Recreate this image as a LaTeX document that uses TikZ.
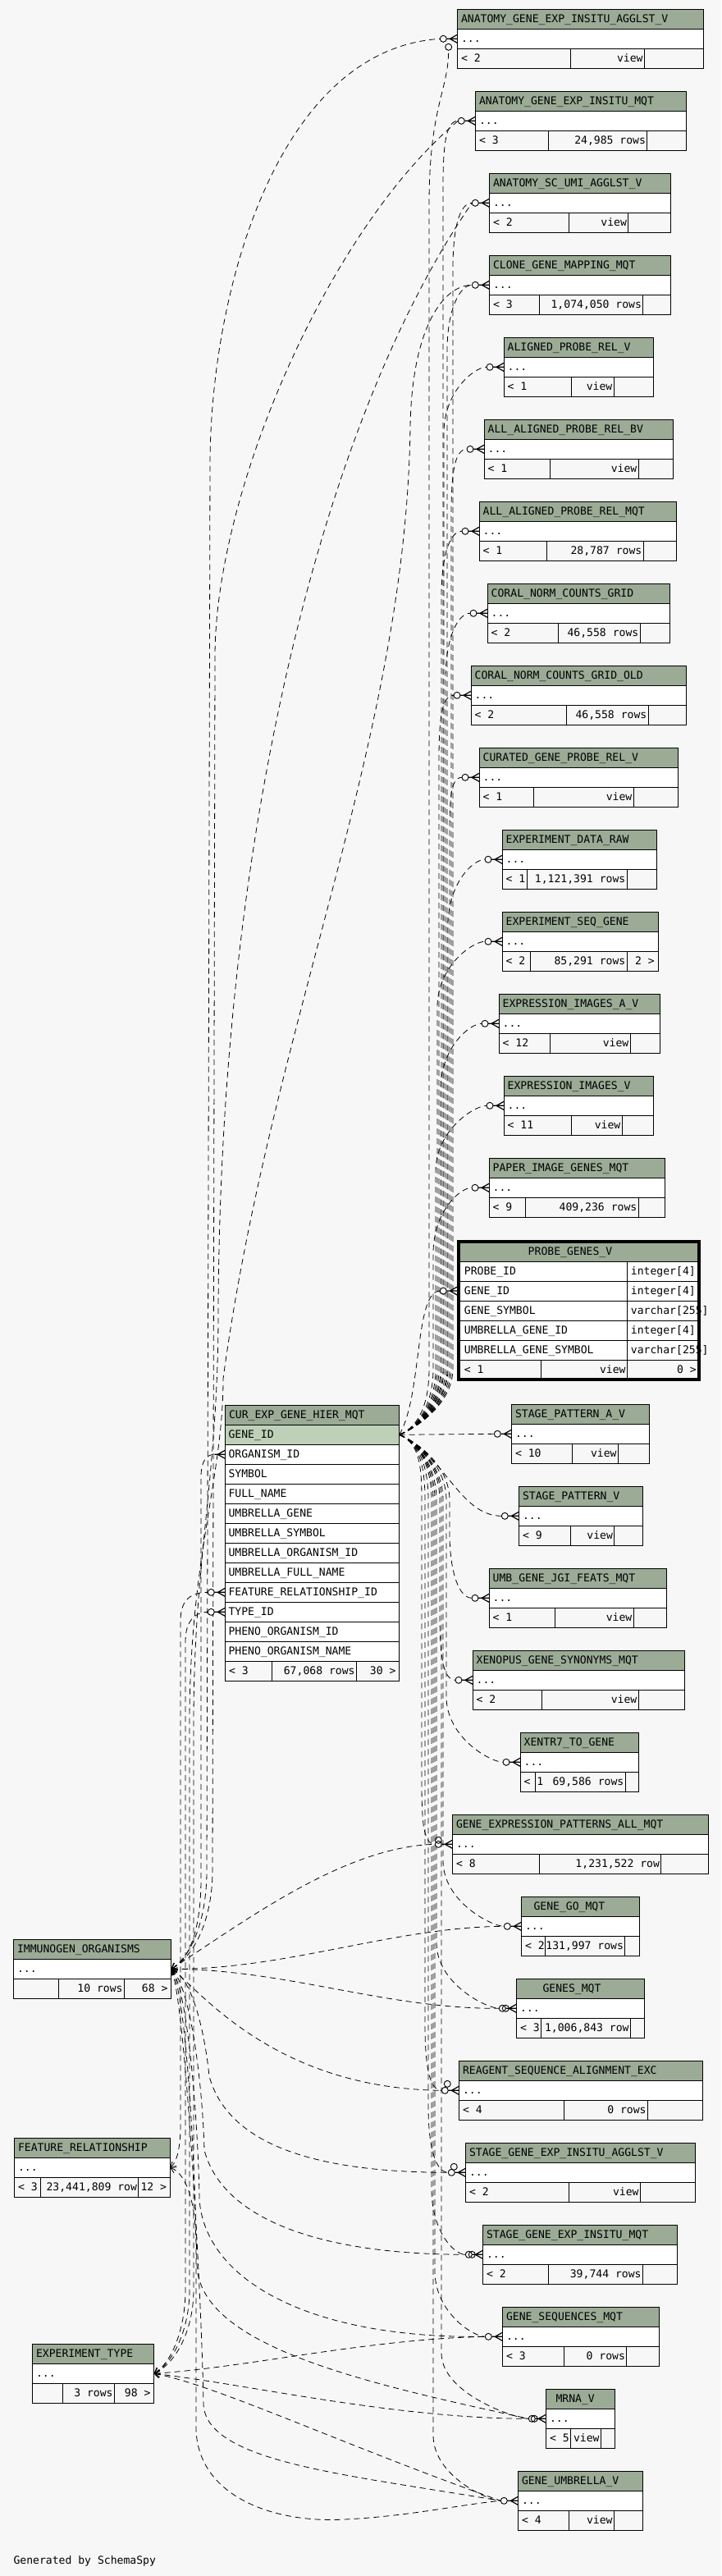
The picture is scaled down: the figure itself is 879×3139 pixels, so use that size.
\documentclass[tikz,border=0pt]{standalone}
\usepackage{fontspec}
\newfontfamily\dv{DejaVu Sans Mono}
\usetikzlibrary{arrows.meta,calc}
\pgfdeclarelayer{back}
\pgfdeclarelayer{edges}
\pgfsetlayers{back,edges,main}
\definecolor{bg}{HTML}{F7F7F7}
\definecolor{hdr}{HTML}{9BAB96}
\definecolor{sel}{HTML}{BED1B8}
\tikzset{
 tl/.style={line width=1pt},
 txt/.style={anchor=base west,inner sep=0pt,font={\dv\fontsize{13.1}{15}\selectfont}},
 txtr/.style={anchor=base east,inner sep=0pt,font={\dv\fontsize{13.1}{15}\selectfont}},
 txtc/.style={anchor=base,inner sep=0pt,font={\dv\fontsize{13.1}{15}\selectfont}},
 rel/.style={line width=0.8pt,dash pattern=on 7pt off 5pt},
 pend/.style={arrows={Straight Barb[length=6pt,width=9pt]-}},
 crowl/.style={line width=1.2pt},
 ring/.style={line width=0.9pt,fill=bg},
 ring2/.style={line width=0.9pt},
}
\newcommand\mytoff{4.5}
\newcommand\mytbl[9]{%
 \fill[hdr] (#2,#4) rectangle (#3,#4+24);
 \fill[white] (#2,#4+24) rectangle (#3,#4+48);
 \draw[tl] (#2,#4) rectangle (#3,#4+72) (#2,#4+24) -- (#3,#4+24) (#2,#4+48) -- (#3,#4+48) (#6,#4+48) -- (#6,#4+72) (#7,#4+48) -- (#7,#4+72);
 \node[txt] (#1-t) at (#2+\mytoff,#4+16) {#5};
 \node[txt] (#1-r) at (#2+4.5,#4+40) {...};
 \node[txt] (#1-a) at (#2+4.5,#4+64) {#8};
 \node[txtr] (#1-b) at (#7-1.5,#4+64) {#9};
}
\newcommand\crowft[3]{%
 \coordinate (#1-in) at (#2-21,#3);
 \draw[crowl] (#2-9,#3) -- (#2,#3-5) (#2-9,#3) -- (#2,#3+5) (#2-13,#3) -- (#2,#3);
 \draw[ring] (#2-17,#3) circle[radius=4pt];
}
\newcommand\edgeup[2]{\draw[rel] let \p1=(#2-in) in (gid) .. controls +(25,-10) and (#1,1708) .. (#1,1668) -- (#1pt,\y1-80pt) .. controls (#1pt,\y1-30pt) and (\x1-15pt,\y1) .. (#2-in);}
\newcommand\edgedn[2]{\draw[rel] let \p1=(#2-in) in (gid) .. controls +(25,10) and (#1,1788) .. (#1,1828) -- (#1pt,\y1+80pt) .. controls (#1pt,\y1+30pt) and (\x1-15pt,\y1) .. (#2-in);}
\begin{document}
\catcode`\_=12
\begin{tikzpicture}[x=1pt,y=-1pt]
\begin{pgfonlayer}{back}\fill[bg] (0,0) rectangle (879,3139);\end{pgfonlayer}
\useasboundingbox (0,0) rectangle (879,3139);

% right-hand tables
\mytbl{t1}{557.3}{857.3}{11.3}{ANATOMY_GENE_EXP_INSITU_AGGLST_V}{695.3}{785.3}{< 2}{view}
\mytbl{t2}{579.3}{836.3}{111.3}{ANATOMY_GENE_EXP_INSITU_MQT}{668.3}{788.7}{< 3}{24,985 rows}
\mytbl{t3}{596.3}{817.3}{211.3}{ANATOMY_SC_UMI_AGGLST_V}{693.3}{765.7}{< 2}{view}
\mytbl{t4}{596.3}{817.3}{311.3}{CLONE_GENE_MAPPING_MQT}{657.3}{783.7}{< 3}{1,074,050 rows}
\mytbl{t5}{614}{796}{411.3}{ALIGNED_PROBE_REL_V}{696}{748}{< 1}{view}
\mytbl{t6}{590}{820}{511.3}{ALL_ALIGNED_PROBE_REL_BV}{670}{778}{< 1}{view}
\mytbl{t7}{584}{824}{611.3}{ALL_ALIGNED_PROBE_REL_MQT}{666}{784}{< 1}{28,787 rows}
\mytbl{t8}{594}{816}{711.3}{CORAL_NORM_COUNTS_GRID}{680}{780}{< 2}{46,558 rows}
\mytbl{t9}{574}{836}{811.3}{CORAL_NORM_COUNTS_GRID_OLD}{690}{790}{< 2}{46,558 rows}
\mytbl{t10}{584}{826}{911.3}{CURATED_GENE_PROBE_REL_V}{650}{772}{< 1}{view}
\mytbl{t11}{612}{800}{1011.3}{EXPERIMENT_DATA_RAW}{642}{764}{< 1}{1,121,391 rows}
\mytbl{t12}{612}{802}{1111.3}{EXPERIMENT_SEQ_GENE}{646}{764}{< 2}{85,291 rows}
\node[txtr] (t12-c) at (798,1175.3) {2 >};
\mytbl{t13}{608}{804}{1211.3}{EXPRESSION_IMAGES_A_V}{670}{768}{< 12}{view}
\mytbl{t14}{614}{796}{1311.3}{EXPRESSION_IMAGES_V}{696}{758}{< 11}{view}
\mytbl{t15}{596}{810}{1411.3}{PAPER_IMAGE_GENES_MQT}{640}{778}{< 9}{409,236 rows}
\mytbl{t17}{623.3}{791.3}{1711.3}{STAGE_PATTERN_A_V}{697.3}{753.3}{< 10}{view}
\mytbl{t18}{632.3}{783.7}{1811.3}{STAGE_PATTERN_V}{695.3}{748.7}{< 9}{view}
\mytbl{t19}{596}{812}{1911.3}{UMB_GENE_JGI_FEATS_MQT}{676}{772}{< 1}{view}
\mytbl{t20}{576}{834}{2011.3}{XENOPUS_GENE_SYNONYMS_MQT}{660}{778}{< 2}{view}
\mytbl{t21}{634}{778}{2111.3}{XENTR7_TO_GENE}{652}{762}{< 1}{69,586 rows}
\mytbl{t22}{551.3}{863.3}{2211.3}{GENE_EXPRESSION_PATTERNS_ALL_MQT}{657.3}{805.7}{< 8}{1,231,522 row}
\renewcommand\mytoff{15}
\mytbl{t23}{635.3}{779.3}{2311.3}{GENE_GO_MQT}{664.7}{761.7}{< 2}{131,997 rows}
\renewcommand\mytoff{32}
\mytbl{t24}{629.3}{785.3}{2411.3}{GENES_MQT}{659.3}{768.3}{< 3}{1,006,843 row}
\renewcommand\mytoff{4.5}
\mytbl{t25}{559.3}{856.3}{2511.3}{REAGENT_SEQUENCE_ALIGNMENT_EXC}{687.3}{789.3}{< 4}{0 rows}
\mytbl{t26}{567.3}{847.7}{2611.3}{STAGE_GENE_EXP_INSITU_AGGLST_V}{693.3}{780.3}{< 2}{view}
\mytbl{t27}{588.3}{825.3}{2711.3}{STAGE_GENE_EXP_INSITU_MQT}{668.3}{783.3}{< 2}{39,744 rows}
\mytbl{t28}{612.3}{803.3}{2811.3}{GENE_SEQUENCES_MQT}{687.3}{763.7}{< 3}{0 rows}
\renewcommand\mytoff{12}
\mytbl{t29}{665.3}{749.3}{2911.3}{MRNA_V}{695.3}{732.3}{< 5}{view}
\renewcommand\mytoff{4.5}
\mytbl{t30}{631.3}{783.3}{3011.3}{GENE_UMBRELLA_V}{693.3}{748.3}{< 4}{view}

% PROBE_GENES_V
\fill[hdr] (559,1513) rectangle (852.5,1537);
\fill[white] (559,1537) rectangle (852.5,1657);
\foreach \k in {0,...,5} \draw[tl] (559,1537+24*\k) -- (852.5,1537+24*\k);
\draw[tl] (764.3,1537) -- (764.3,1681) (659.3,1657) -- (659.3,1681);
\node[txtc] (pg-t) at (695,1529) {PROBE_GENES_V};
\foreach \nm/\ty [count=\i from 0] in {PROBE_ID/integer[4],GENE_ID/integer[4],GENE_SYMBOL/varchar[255],UMBRELLA_GENE_ID/integer[4],UMBRELLA_GENE_SYMBOL/varchar[255]}{
 \node[txt] (pg-n\i) at (565.7,1553+24*\i) {\nm};
 \node[txt] (pg-y\i) at (768.7,1553+24*\i) {\ty};
}
\node[txt] (pg-a) at (565.7,1673) {< 1};
\node[txtr] (pg-b) at (762.8,1673) {view};
\node[txtr] (pg-c) at (849,1673) {0 >};
\draw[line width=4pt] (559.3,1513) rectangle (852.3,1680.7);

% CUR_EXP_GENE_HIER_MQT
\fill[hdr] (274.3,1712.3) rectangle (486.7,1736.3);
\fill[sel] (274.3,1736.3) rectangle (486.7,1760.3);
\fill[white] (274.3,1760.3) rectangle (486.7,2024.3);
\draw[tl] (274.3,1712.3) rectangle (486.7,2048.3);
\foreach \k in {0,...,12} \draw[tl] (274.3,1736.3+24*\k) -- (486.7,1736.3+24*\k);
\draw[tl] (331.3,2024.3) -- (331.3,2048.3) (434.3,2024.3) -- (434.3,2048.3);
\node[txt] (cur-t) at (278.8,1728.3) {CUR_EXP_GENE_HIER_MQT};
\foreach \nm [count=\i from 0] in {GENE_ID,ORGANISM_ID,SYMBOL,FULL_NAME,UMBRELLA_GENE,UMBRELLA_SYMBOL,UMBRELLA_ORGANISM_ID,UMBRELLA_FULL_NAME,FEATURE_RELATIONSHIP_ID,TYPE_ID,PHENO_ORGANISM_ID,PHENO_ORGANISM_NAME}
 \node[txt] (cur-\i) at (278.3,1752.3+24*\i) {\nm};
\node[txt] (cur-fa) at (278.8,2040.3) {< 3};
\node[txtr] (cur-fb) at (432.8,2040.3) {67,068 rows};
\node[txtr] (cur-fc) at (482.7,2040.3) {30 >};
\coordinate (gid) at (486.7,1748.3);

% left tables
\mytbl{imm}{16.3}{208.7}{2363.3}{IMMUNOGEN_ORGANISMS}{71.3}{151.3}{}{10 rows}
\node[txtr] (imm-c) at (204.7,2427.3) {68 >};
\coordinate (imm-out) at (208.7,2399.3);
\mytbl{fr}{17.3}{207.3}{2605.3}{FEATURE_RELATIONSHIP}{49.3}{168.7}{< 3}{23,441,809 row}
\node[txtr] (fr-c) at (203.3,2669.3) {12 >};
\coordinate (fr-out) at (207.3,2641.3);
\mytbl{et}{39.3}{187.7}{2856.3}{EXPERIMENT_TYPE}{76.3}{139.3}{}{3 rows}
\node[txtr] (et-c) at (183.7,2920.3) {98 >};
\coordinate (et-out) at (187.7,2892.3);

\node[txt] (gen) at (16.3,3124) {Generated by SchemaSpy};

% crow's feet
\foreach \id/\L/\y in {t1/557.3/47.3,t2/579.3/147.3,t3/596.3/247.3,t4/596.3/347.3,t5/614/447.3,t6/590/547.3,t7/584/647.3,t8/594/747.3,t9/574/847.3,t10/584/947.3,t11/612/1047.3,t12/612/1147.3,t13/608/1247.3,t14/614/1347.3,t15/596/1447.3,pg/557.3/1573,t17/623.3/1747.3,t18/632.3/1847.3,t19/596/1947.3,t20/576/2047.3,t21/634/2147.3,t22/551.3/2247.3,t23/635.3/2347.3,t24/629.3/2447.3,t25/559.3/2547.3,t26/567.3/2647.3,t27/588.3/2747.3,t28/612.3/2847.3,t29/665.3/2947.3,t30/631.3/3047.3,cfr/274.3/1940.3,cty/274.3/1964.3}
 {\crowft{\id}{\L}{\y}}
\draw[crowl] (265.3,1772.3) -- (274.3,1767.3) (265.3,1772.3) -- (274.3,1777.3) (261.3,1772.3) -- (274.3,1772.3);
\coordinate (cur-org) at (261.3,1772.3);
\draw[ring] (546.7,57.3) circle[radius=4pt];
\coordinate (t1-in2) at (546.7,61.5);
\draw[ring2] (534.3,2242.3) circle[radius=4pt];
\draw[ring2] (616.3,2447.3) circle[radius=4pt];
\draw[ring2] (545.3,2539.3) circle[radius=4pt];
\draw[ring2] (553.3,2640.3) circle[radius=4pt];
\draw[ring2] (575.3,2747.3) circle[radius=4pt];
\draw[ring2] (651.3,2947.3) circle[radius=4pt];

% connectors
\begin{pgfonlayer}{edges}
% from CUR_EXP_GENE_HIER_MQT.GENE_ID
\draw[rel] (gid) .. controls +(25,-10) and (523,1708) .. (523,1668) -- (523,250) .. controls (523,130) and (546.7,110) .. (t1-in2);
\edgeup{540}{t2}
\edgeup{552}{t3}
\edgeup{545}{t4}
\edgeup{541}{t5}
\edgeup{550}{t6}
\edgeup{538}{t7}
\edgeup{543}{t8}
\edgeup{535}{t9}
\edgeup{548}{t10}
\edgeup{546}{t11}
\edgeup{533}{t12}
\edgeup{537}{t13}
\edgeup{531}{t14}
\edgeup{528}{t15}
\draw[rel] (gid) .. controls (515,1700) and (505,1573) .. (pg-in);
\draw[rel] (gid) -- (t17-in);
\draw[rel] (gid) .. controls (540,1770) and (560,1847.3) .. (t18-in);
\edgedn{548}{t19}
\edgedn{536}{t20}
\edgedn{544}{t21}
\edgedn{514}{t22}
\edgedn{540}{t23}
\edgedn{532}{t24}
\edgedn{518}{t25}
\edgedn{522}{t26}
\edgedn{526}{t27}
\edgedn{530}{t28}
\edgedn{538}{t29}
\edgedn{528}{t30}
% from IMMUNOGEN_ORGANISMS
\draw[rel,pend] (imm-out) .. controls (235,2385) and (245,2340) .. (245,2290) -- (245,1800) .. controls (245,1780) and (252,1772.3) .. (cur-org);
\draw[rel,pend] (imm-out) .. controls (238,2380) and (252,2330) .. (252,2280) -- (256,560) .. controls (258,350) and (340,60) .. (t1-in);
\draw[rel,pend] (imm-out) .. controls (242,2380) and (259,2330) .. (259,2280) -- (262,800) .. controls (262,600) and (400,280) .. (t2-in);
\draw[rel,pend] (imm-out) .. controls (300,2340) and (420,2250) .. (t22-in);
\draw[rel,pend] (imm-out) .. controls (350,2400) and (480,2348) .. (t23-in);
\draw[rel,pend] (imm-out) .. controls (350,2400) and (470,2448) .. (t24-in);
\draw[rel,pend] (imm-out) .. controls (240,2420) and (330,2545) .. (t25-in);
\draw[rel,pend] (imm-out) .. controls (235,2410) and (250,2480) .. (255,2530) .. controls (280,2620) and (400,2647) .. (t26-in);
\draw[rel,pend] (imm-out) .. controls (232,2420) and (247,2540) .. (249,2620) .. controls (270,2700) and (380,2747) .. (t27-in);
\draw[rel,pend] (imm-out) .. controls (230,2425) and (242,2600) .. (243,2680) .. controls (250,2780) and (380,2850) .. (t28-in);
\draw[rel,pend] (imm-out) .. controls (228,2430) and (238,2650) .. (240,2760) .. controls (243,2860) and (450,2905) .. (t29-in);
\draw[rel,pend] (imm-out) .. controls (226,2440) and (246,2800) .. (248,2930) .. controls (252,3000) and (420,3015) .. (t30-in);
% from EXPERIMENT_TYPE
\draw[rel,pend] (et-out) .. controls (208,2880) and (226,2840) .. (226,2790) -- (226,2000) .. controls (226,1975) and (238,1964.3) .. (cty-in);
\draw[rel,pend] (et-out) .. controls (214,2880) and (236,2840) .. (236,2790) -- (236,2100) .. controls (236,1900) and (266,1800) .. (266,1600) .. controls (268,1000) and (400,500) .. (t3-in);
\draw[rel,pend] (et-out) .. controls (210,2880) and (231,2840) .. (231,2790) -- (231,2100) .. controls (231,1900) and (272,1800) .. (272,1680) .. controls (330,1250) and (495,900) .. (500,520) .. controls (502,400) and (540,347.3) .. (t4-in);
\draw[rel,pend] (et-out) .. controls (300,2885) and (450,2850) .. (t28-in);
\draw[rel,pend] (et-out) .. controls (300,2905) and (480,2947) .. (t29-in);
\draw[rel,pend] (et-out) .. controls (260,2905) and (420,2980) .. (t30-in);
% from FEATURE_RELATIONSHIP
\draw[rel,pend] (fr-out) .. controls (216,2635) and (220,2615) .. (220,2590) -- (220,1975) .. controls (220,1950) and (232,1940.3) .. (cfr-in);
\draw[rel,pend] (fr-out) .. controls (226,2648) and (239,2680) .. (239,2740) -- (239,2960) .. controls (241,3040) and (330,3075) .. (420,3070) .. controls (500,3066) and (560,3052) .. (t30-in);
\end{pgfonlayer}
\end{tikzpicture}
\end{document}
